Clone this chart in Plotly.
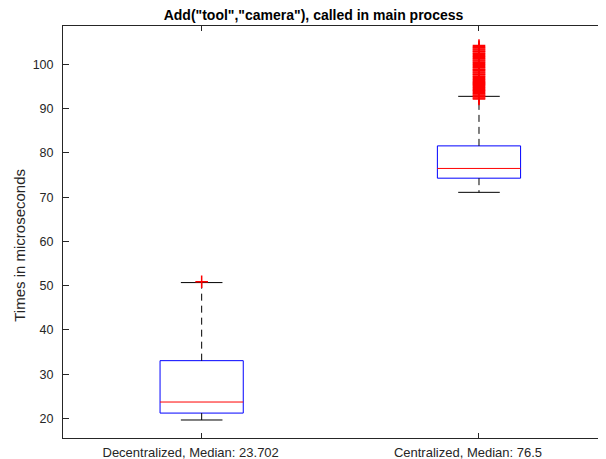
import plotly.graph_objects as go

categories = ["Decentralized, Median: 23.702", "Centralized, Median: 76.5"]
positions = [1, 2]
q1 = [21.2, 74.3]
median = [23.702, 76.5]
q3 = [33.05, 81.6]
lower_whisker = [19.64, 71.1]
upper_whisker = [50.7, 92.8]
outliers_dec = [50.9]
outliers_cen = [92.2, 92.4, 92.7, 92.9, 93.1, 93.4, 93.6, 93.9, 94.1, 94.3, 94.6, 94.8,
                95.0, 95.3, 95.5, 95.7, 95.9, 96.1, 96.3, 96.6, 96.8, 97.1, 97.3, 97.6,
                97.8, 98.1, 98.3, 98.6, 98.8, 99.0, 99.3, 99.5, 99.8, 100.0, 100.3,
                100.5, 100.8, 101.0, 101.3, 101.5, 101.8, 102.0, 102.3, 102.5, 102.8,
                103.0, 103.3, 103.5, 103.8, 104.0, 104.3]
title_text = 'Add("tool","camera"), called in main process'
y_label = "Times in microseconds"
y_ticks = [20, 30, 40, 50, 60, 70, 80, 90, 100]

box_half = 0.15
cap_half = 0.075
axis_col = "#262626"

# page body has an 8px margin, so the figure is sized to fit the 606x459 window
W, H = 598, 451
ML, MR, MT, MB = 55, 0, 18, 21
PW, PH = W - ML - MR, H - MT - MB

fig = go.Figure()
for i, p in enumerate(positions):
    fig.add_trace(go.Scatter(
        x=[p - box_half, p + box_half, p + box_half, p - box_half, p - box_half],
        y=[q1[i], q1[i], q3[i], q3[i], q1[i]],
        mode="lines", line=dict(color="#0000ff", width=1), hoverinfo="skip"))
    fig.add_trace(go.Scatter(
        x=[p - box_half, p + box_half], y=[median[i], median[i]],
        mode="lines", line=dict(color="#ff0000", width=1), hoverinfo="skip"))
    fig.add_trace(go.Scatter(
        x=[p, p, None, p, p], y=[q3[i], upper_whisker[i], None, q1[i], lower_whisker[i]],
        mode="lines", line=dict(color="black", width=1, dash="7px,5px"), hoverinfo="skip"))
    fig.add_trace(go.Scatter(
        x=[p - cap_half, p + cap_half, None, p - cap_half, p + cap_half],
        y=[upper_whisker[i], upper_whisker[i], None, lower_whisker[i], lower_whisker[i]],
        mode="lines", line=dict(color="black", width=1), hoverinfo="skip"))

outlier_marker = dict(symbol="cross-thin-open", size=9, color="#ff0000",
                      line=dict(color="#ff0000", width=1.5))
fig.add_trace(go.Scatter(x=[positions[0]] * len(outliers_dec), y=outliers_dec,
                         mode="markers", marker=outlier_marker))
fig.add_trace(go.Scatter(x=[positions[1]] * len(outliers_cen), y=outliers_cen,
                         mode="markers", marker=outlier_marker))

font_family = "Liberation Sans, Arial, Helvetica, sans-serif"
fig.update_layout(
    width=W, height=H,
    margin=dict(l=ML, r=MR, t=MT, b=MB),
    paper_bgcolor="white", plot_bgcolor="white",
    showlegend=False,
    font=dict(family=font_family, size=12.5, color=axis_col),
    title=dict(text="<b>" + title_text + "</b>", x=305.5 / W, xanchor="center",
               xref="container", y=1 - 7 / H, yanchor="middle",
               font=dict(size=14, color="black")),
    xaxis=dict(range=[0.5, 2.458], tickvals=positions, ticktext=categories,
               ticks="inside", ticklen=5, tickcolor=axis_col, showline=True,
               linecolor=axis_col, linewidth=1, mirror="ticks", showgrid=False,
               zeroline=False, tickfont=dict(size=13), automargin=False,
               ticklabelstandoff=2, ticklabelshift=-11),
    yaxis=dict(range=[15.57, 108.7], tickvals=y_ticks, ticks="inside", ticklen=6,
               tickcolor=axis_col, showline=True, linecolor=axis_col, linewidth=1,
               mirror=False, showgrid=False, zeroline=False, automargin=False,
               tickfont=dict(size=12.5), ticklabelstandoff=6),
    annotations=[dict(text=y_label, textangle=-90, xref="paper", yref="paper",
                      x=(12 - ML) / PW, y=(H - MB - 237.8) / PH,
                      xanchor="center", yanchor="middle", showarrow=False,
                      font=dict(size=15, color=axis_col))],
)

fig.write_html("out.html")
